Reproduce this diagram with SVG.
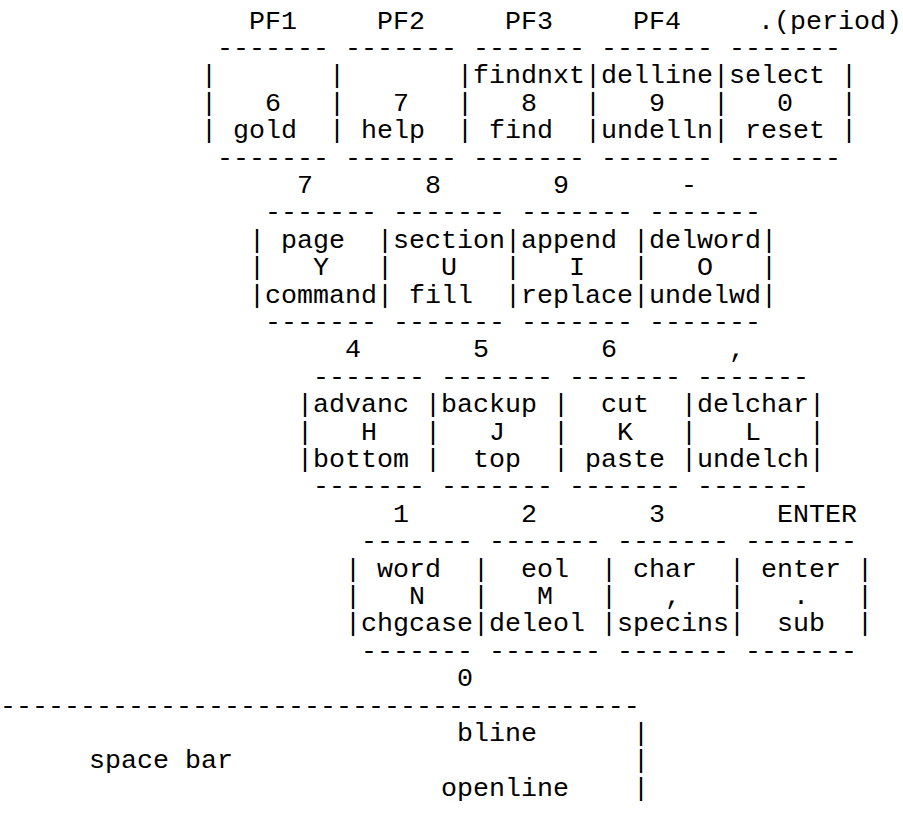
<svg xmlns="http://www.w3.org/2000/svg" width="903" height="817" viewBox="0 0 903 817">
<style>
text { font-family: "Liberation Mono", "Courier New", monospace; font-size: 26.66px; fill: #000; }
</style>
<rect width="903" height="817" fill="#fff"/>
<!-- Row A: PF keys -->
<g id="key-pf1"><text x="249" y="28.6">PF1</text><text x="217" y="56">-------</text><text x="265" y="110.8">6</text><text x="233" y="138.2">gold</text><text x="217" y="165.6">-------</text></g>
<g id="key-pf2"><text x="377" y="28.6">PF2</text><text x="345" y="56">-------</text><text x="393" y="110.8">7</text><text x="361" y="138.2">help</text><text x="345" y="165.6">-------</text></g>
<g id="key-pf3"><text x="505" y="28.6">PF3</text><text x="473" y="56">-------</text><text x="473" y="83.4">findnxt</text><text x="521" y="110.8">8</text><text x="489" y="138.2">find</text><text x="473" y="165.6">-------</text></g>
<g id="key-pf4"><text x="633" y="28.6">PF4</text><text x="601" y="56">-------</text><text x="601" y="83.4">delline</text><text x="649" y="110.8">9</text><text x="601" y="138.2">undelln</text><text x="601" y="165.6">-------</text></g>
<g id="key-period"><text x="758" y="28.6">.(period)</text><text x="729" y="56">-------</text><text x="729" y="83.4">select</text><text x="777" y="110.8">0</text><text x="745" y="138.2">reset</text><text x="729" y="165.6">-------</text></g>
<!-- Row B -->
<g id="key-7"><text x="297" y="193">7</text><text x="265" y="220.4">-------</text><text x="281" y="247.8">page</text><text x="313" y="275.2">Y</text><text x="265" y="302.6">command</text><text x="265" y="330">-------</text></g>
<g id="key-8"><text x="425" y="193">8</text><text x="393" y="220.4">-------</text><text x="393" y="247.8">section</text><text x="441" y="275.2">U</text><text x="409" y="302.6">fill</text><text x="393" y="330">-------</text></g>
<g id="key-9"><text x="553" y="193">9</text><text x="521" y="220.4">-------</text><text x="521" y="247.8">append</text><text x="569" y="275.2">I</text><text x="521" y="302.6">replace</text><text x="521" y="330">-------</text></g>
<g id="key-minus"><text x="681" y="193">-</text><text x="649" y="220.4">-------</text><text x="649" y="247.8">delword</text><text x="697" y="275.2">O</text><text x="649" y="302.6">undelwd</text><text x="649" y="330">-------</text></g>
<!-- Row C -->
<g id="key-4"><text x="345" y="357.4">4</text><text x="313" y="384.8">-------</text><text x="313" y="412.2">advanc</text><text x="361" y="439.6">H</text><text x="313" y="467">bottom</text><text x="313" y="494.4">-------</text></g>
<g id="key-5"><text x="473" y="357.4">5</text><text x="441" y="384.8">-------</text><text x="441" y="412.2">backup</text><text x="489" y="439.6">J</text><text x="473" y="467">top</text><text x="441" y="494.4">-------</text></g>
<g id="key-6"><text x="601" y="357.4">6</text><text x="569" y="384.8">-------</text><text x="601" y="412.2">cut</text><text x="617" y="439.6">K</text><text x="585" y="467">paste</text><text x="569" y="494.4">-------</text></g>
<g id="key-comma"><text x="729" y="357.4">,</text><text x="697" y="384.8">-------</text><text x="697" y="412.2">delchar</text><text x="745" y="439.6">L</text><text x="697" y="467">undelch</text><text x="697" y="494.4">-------</text></g>
<!-- Row D -->
<g id="key-1"><text x="393" y="521.8">1</text><text x="361" y="549.2">-------</text><text x="377" y="576.6">word</text><text x="409" y="604">N</text><text x="361" y="631.4">chgcase</text><text x="361" y="658.8">-------</text></g>
<g id="key-2"><text x="521" y="521.8">2</text><text x="489" y="549.2">-------</text><text x="521" y="576.6">eol</text><text x="537" y="604">M</text><text x="489" y="631.4">deleol</text><text x="489" y="658.8">-------</text></g>
<g id="key-3"><text x="649" y="521.8">3</text><text x="617" y="549.2">-------</text><text x="633" y="576.6">char</text><text x="665" y="604">,</text><text x="617" y="631.4">specins</text><text x="617" y="658.8">-------</text></g>
<g id="key-enter"><text x="777" y="521.8">ENTER</text><text x="745" y="549.2">-------</text><text x="761" y="576.6">enter</text><text x="793" y="604">.</text><text x="777" y="631.4">sub</text><text x="745" y="658.8">-------</text></g>
<!-- Space bar -->
<g id="key-space"><text x="457" y="686.2">0</text><text x="0" y="713.6">----------------------------------------</text><text x="457" y="741">bline</text><text x="89" y="768.4">space bar</text><text x="441" y="795.8">openline</text></g>
<!-- key borders (vertical separators) -->
<g id="connectors">
<text x="201" y="83.4">|</text><text x="329" y="83.4">|</text><text x="457" y="83.4">|</text><text x="585" y="83.4">|</text><text x="713" y="83.4">|</text><text x="841" y="83.4">|</text>
<text x="201" y="110.8">|</text><text x="329" y="110.8">|</text><text x="457" y="110.8">|</text><text x="585" y="110.8">|</text><text x="713" y="110.8">|</text><text x="841" y="110.8">|</text>
<text x="201" y="138.2">|</text><text x="329" y="138.2">|</text><text x="457" y="138.2">|</text><text x="585" y="138.2">|</text><text x="713" y="138.2">|</text><text x="841" y="138.2">|</text>
<text x="249" y="247.8">|</text><text x="377" y="247.8">|</text><text x="505" y="247.8">|</text><text x="633" y="247.8">|</text><text x="761" y="247.8">|</text>
<text x="249" y="275.2">|</text><text x="377" y="275.2">|</text><text x="505" y="275.2">|</text><text x="633" y="275.2">|</text><text x="761" y="275.2">|</text>
<text x="249" y="302.6">|</text><text x="377" y="302.6">|</text><text x="505" y="302.6">|</text><text x="633" y="302.6">|</text><text x="761" y="302.6">|</text>
<text x="297" y="412.2">|</text><text x="425" y="412.2">|</text><text x="553" y="412.2">|</text><text x="681" y="412.2">|</text><text x="809" y="412.2">|</text>
<text x="297" y="439.6">|</text><text x="425" y="439.6">|</text><text x="553" y="439.6">|</text><text x="681" y="439.6">|</text><text x="809" y="439.6">|</text>
<text x="297" y="467">|</text><text x="425" y="467">|</text><text x="553" y="467">|</text><text x="681" y="467">|</text><text x="809" y="467">|</text>
<text x="345" y="576.6">|</text><text x="473" y="576.6">|</text><text x="601" y="576.6">|</text><text x="729" y="576.6">|</text><text x="857" y="576.6">|</text>
<text x="345" y="604">|</text><text x="473" y="604">|</text><text x="601" y="604">|</text><text x="729" y="604">|</text><text x="857" y="604">|</text>
<text x="345" y="631.4">|</text><text x="473" y="631.4">|</text><text x="601" y="631.4">|</text><text x="729" y="631.4">|</text><text x="857" y="631.4">|</text>
<text x="633" y="741">|</text><text x="633" y="768.4">|</text><text x="633" y="795.8">|</text>
</g>
</svg>
